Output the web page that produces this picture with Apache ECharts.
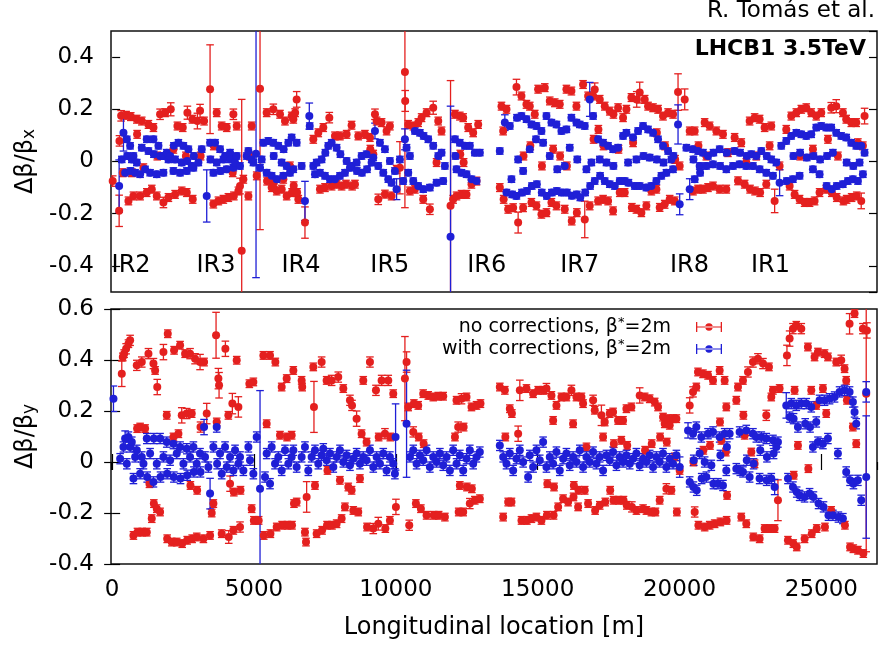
<!DOCTYPE html>
<html><head><meta charset="utf-8">
<script src="https://cdn.jsdelivr.net/npm/echarts@6/dist/echarts.min.js"></script>
<style>html,body{margin:0;padding:0;background:#fff}#c{width:884px;height:654px}</style>
</head><body><div id="c"></div>
<script>
// ---- axis / label values ----
const xRange = [-40, 26960];
const xTickStep = 5000;
const yTopRange = [-0.5, 0.5];
const yBotRange = [-0.4, 0.6];
const yTickStep = 0.2;
const irNames = ['IR2','IR3','IR4','IR5','IR6','IR7','IR8','IR1'];
const irPos = [669, 3662, 6655, 9789, 13204, 16479, 20352, 23204];
const irLabelY = -0.4;
const nameNo = 'no corrections, β*=2m';
const nameWith = 'with corrections, β*=2m';

// ---- data: [location m, delta beta / beta, (error)] ----
const topNoCorr = [[20,-0.075,0.02],[247,-0.189,0.06],[258,0.079,0.02],[317,0.175,0.02],[376,-0.043],[493,0.177],[575,-0.151],[657,0.172],[693,-0.043],[751,-0.132],[869,0.162],[880,0.104],[986,-0.132],[1045,0.155],[1104,-0.024],[1221,-0.119],[1280,0.142],[1397,-0.106],[1456,0.13],[1573,-0.132],[1590,0.021],[1690,0.181,0.02],[1808,-0.157,0.02],[1867,0.187],[1984,-0.138],[2066,0.2,0.025],[2160,0.047],[2219,-0.126],[2301,0.136],[2454,-0.113],[2489,0.13],[2630,-0.119],[2653,0.187,0.025],[2600,0.021],[2829,0.162],[2841,-0.145],[3005,0.155,0.03],[3099,0.194,0.025],[3120,0.021],[3240,0.155],[3452,0.277,0.17],[3569,-0.163],[3580,0.06],[3686,0.187],[3745,-0.151],[3862,0.136],[3921,-0.145],[4039,0.13],[4097,-0.138],[4273,0.181,0.02],[4290,-0.132],[4250,-0.043],[4391,0.136],[4450,-0.113],[4508,-0.094,0.03],[4567,-0.342,0.58],[4626,-0.068],[4802,-0.132],[4860,0.021],[4919,0.136],[5095,-0.055],[5213,0.279,0.54],[5447,0.187],[5460,-0.075],[5623,-0.1],[5682,0.2,0.02],[5700,-0.081],[5800,-0.113],[5917,0.181],[5976,-0.106],[6034,-0.068],[6093,0.155],[6152,-0.132],[6269,-0.017],[6328,0.174],[6340,-0.119],
[6387,0.162],[6450,0.187],[6400,-0.093],[6504,0.238,0.03],[6563,-0.145],[6520,-0.119],[6797,-0.234,0.06],[7091,0.085],[7267,0.11],[7326,-0.106],[7443,0.13],[7502,-0.1],[7655,0.168,0.02],[7737,-0.094],[7854,0.098],[7913,-0.087],[8030,0.098],[8089,-0.094],[8265,0.104],[8242,-0.087],[8441,0.139],[8460,-0.094],[8559,-0.087],[8676,0.098],[8911,0.104],[9087,0.092],[9100,0.047],[9205,0.028],[9264,0.181,0.02],[9322,0.155],[9381,-0.145,0.02],[9499,0.149],[9616,-0.125],[9674,0.117],[9791,0.136],[9850,-0.132],[10026,-0.03],[10143,-0.024,0.1],[10320,0.343,0.52],[10330,0.232,0.04],[10437,0.142],[10496,-0.113],[10614,0.136],[10672,-0.106],[10789,0.149],[10907,0.168],[10965,-0.145],[11083,0.187],[11200,-0.183,0.02],[11318,0.206,0.025],[11435,-0.004],[11494,0.155],[11611,0.117],[11928,-0.17,0.48],[12084,0.181],[12021,-0.145],[12139,-0.132],[12256,0.174],[12315,-0.126],[12374,0.168],[12491,-0.126],[12550,0.13],[12667,-0.087],[12726,0.11],[12902,0.142],[12843,-0.075],[12270,0.028],[12390,-0.004],
[13665,-0.1],[13724,0.212],[13783,0.117],[13800,-0.145],[13900,0.2],[13959,-0.183],[14135,-0.177],[14252,0.285,0.03],[14311,-0.234,0.04],[14428,0.251],[14487,-0.177],[14500,0.021],[14604,0.219],[14721,0.212],[14740,0.06],[14780,-0.157],[14897,0.181],[14956,-0.17],[15015,0.277],[15132,-0.202],[15150,-0.017],[15250,0.283],[15309,-0.196],[15426,0.232],[15485,-0.157],[15544,0.047],[15603,0.225],[15661,-0.17],[15778,0.219],[15790,0.021],[15954,-0.183],[16013,0.277],[16030,-0.017],[16189,0.27],[16200,-0.228],[16366,0.212],[16380,-0.196],
[16600,0.295],[16659,-0.222,0.07],[16777,0.251],[16835,-0.17],[16953,0.251],[16970,0.085],[17011,0.276,0.025],[17129,-0.151],[17140,0.123],[17188,0.238],[17305,-0.145],[17320,0.06],[17364,0.212],[17481,-0.151],[17540,0.193],[17657,-0.189],[17670,0.181],[17833,0.206],[17850,0.047],[17892,-0.119],[18009,0.168],[18068,-0.119],[18127,0.2],[18303,0.245],[18320,-0.176],[18362,0.072],[18479,-0.183],[18490,0.238,0.03],[18596,0.264,0.04],[18655,-0.196],[18772,0.238],[18831,-0.17],[18890,0.212],[19007,-0.113],[19066,0.206],[19184,-0.106],[19200,0.11],[19242,0.2],[19301,-0.176],[19418,0.174],[19477,-0.164],[19490,0.06],[19595,0.187],[19653,-0.145],[19771,0.181],[19830,-0.151],[19845,0.008],[19947,0.266,0.07],[20005,-0.017],[20182,0.238,0.04],[20358,0.117],[20475,-0.113],[20534,0.117],[20651,-0.106],[20665,0.06],[20827,-0.106],[20886,0.149],[20944,0.021],[21003,-0.1],[21062,0.136],[21179,-0.094],[21297,0.117],[21414,-0.106],[21531,0.104],[21649,-0.106],[21707,0.034],[21942,0.092],[22060,-0.074],[22177,0.072],[22295,-0.087],[22353,-0.004],[22471,0.155],[22485,-0.106],[22647,0.168],[22660,-0.113],[22706,0.021],[22823,0.162],[22840,-0.119],[22999,0.13],[23058,-0.087],[23176,0.06],[23234,0.136],[23352,-0.151,0.045],[23527,-0.017],[23762,0.123],[23880,-0.094],[23938,0.174],[24056,-0.126],[24115,0.187],[24232,-0.145],[24250,0.021],[24291,0.2],[24408,-0.157],[24467,0.206],[24584,-0.157],[24643,0.187],[24701,0.047],[24760,-0.151],[24819,0.174],[24936,-0.119],[24995,0.187],[25171,-0.106],[25230,0.085],[25347,0.206,0.02],[25365,-0.119],[25523,0.212,0.025],[25540,-0.138],[25582,0.021],[25758,0.187],[25775,-0.151],[25875,0.162],[25890,-0.145],[26052,0.149],[26065,-0.138],[26228,0.149],[26245,-0.132],[26287,0.072],[26404,-0.151,0.03],[26463,0.06],[26522,0.174,0.03]];

const topWithCorr = [[247,-0.094,0.1],[340,0.008],[399,0.11,0.07],[458,-0.043],[517,0.085],[530,0.021],[634,0.06],[645,-0.036],[693,0.008],[751,0.021],[810,-0.043],[869,-0.004],[986,-0.049],[1045,0.053],[1162,-0.03],[1221,0.085],[1280,0.04],[1338,-0.043],[1456,0.085],[1470,0.028],[1573,-0.049],[1632,0.06],[1690,0.021],[1808,-0.043],[1820,0.021],[1925,0.034],[1984,0.008],[2043,0.021],[2160,-0.036],[2175,0.06],[2219,0.008],[2336,0.072],[2395,-0.043],[2454,-0.004],[2512,0.06],[2630,-0.036],[2645,0.002],[2688,0.047],[2806,-0.017],[2865,-0.024],[2880,0.021],[3040,-0.004],[3158,0.047],[3334,-0.132,0.1],[3452,0.072],[3465,0.008],[3569,-0.043],[3628,0.072],[3686,-0.004],[3804,0.047],[3815,-0.036],[3921,0.008],[3980,0.021],[4039,-0.03],[4156,0.034],[4170,0.008],[4273,-0.024],[4332,-0.004],[4391,0.021],[4508,-0.017],[4743,0.021],[4802,0.04],[4919,0.008],[4978,-0.004],[5072,0.03,0.475],[5213,-0.024],[5271,0.008],[5330,0.072],[5447,-0.043],[5506,0.079],[5623,-0.055],[5682,0.072],[5695,0.021],[5800,-0.068],[5858,0.06],[5976,-0.004],[6034,-0.055],[6045,0.047],[6152,-0.017],[6211,0.072],[6269,-0.043],
[6328,0.092],[6387,-0.03],[6504,0.072],[6680,-0.017],[6797,-0.151,0.075],[6950,0.174,0.05],[6965,0.136],[7091,-0.017],[7150,-0.049],[7208,-0.004],[7326,-0.043],[7385,0.008],[7502,-0.055],[7515,0.034],[7619,0.06],[7678,-0.068],[7737,0.072],[7854,-0.068],[7913,0.053],[8030,-0.055],[8045,0.028],[8206,-0.043],[8265,0.002],[8383,-0.024],[8441,-0.017],[8617,-0.004],[8630,-0.036],[8793,0.021],[8805,-0.043],[8969,0.028],[8985,-0.03],[9146,-0.004],[9205,0.015],[9264,0.117,0.03],[9381,-0.017],[9440,0.072],[9557,-0.043],[9616,0.047],[9733,-0.068],[9791,0.002],[9850,-0.081],[9967,-0.036],[10026,-0.106,0.04],[10143,0.008],[10261,-0.075],[10320,0.085,0.04],[10378,0.053],[10437,-0.043],[10496,0.021],[10614,-0.075],[10672,0.117],[10789,-0.094],[10848,0.11],[10965,-0.106],[10980,0.098],[11142,0.085],[11200,-0.1],[11318,0.06],[11435,-0.081],[11494,0.021],[11611,0.034],[11670,-0.075],[11729,-0.017],[11928,-0.288,0.5],[12084,0.085],[12100,0.021],[12139,-0.03],[12256,0.072],[12315,-0.043],[12432,0.06],[12491,-0.049],[12608,0.06],[12667,-0.068],[12784,0.034],[12843,-0.075],[12961,0.034],
[13665,0.04],[13842,0.149,0.03],[13900,-0.119],[14018,0.136],[14076,-0.068],[14100,-0.126],[14252,-0.132],[14270,0.168],[14311,0.008],[14428,0.174],[14445,-0.119],[14487,-0.036],[14604,0.162],[14620,-0.113],[14721,0.047],[14780,0.142],[14795,-0.094],[14940,0.085],[14956,0.136],[14970,-0.087],[15132,0.117],[15145,-0.119],[15191,0.072],[15309,0.174],[15320,-0.132],[15426,0.021],[15485,0.149],[15500,-0.119],[15661,0.142],[15675,-0.113],[15690,-0.03],[15837,0.117],[15850,-0.119],[15954,-0.017],[16013,0.123],[16030,-0.119],[16130,0.053],[16189,0.168],[16205,-0.131],[16366,0.149],[16380,-0.126],[16395,0.008],
[16483,0.142],[16500,-0.138],[16659,0.136],[16675,-0.119],[16718,-0.03],[16835,0.238,0.065],[16850,-0.094],[16894,-0.004],[16953,0.174],[17011,-0.075],[17129,0.085],[17188,0.008],[17200,-0.055],[17305,0.072],[17364,-0.075],[17423,-0.004],[17481,0.06],[17540,-0.087],[17657,0.047],[17670,-0.017],[17716,-0.094],[17833,0.053],[17892,-0.075],[18009,0.098],[18068,-0.075],[18127,0.11],[18186,-0.004],[18200,-0.081],[18362,0.092],[18420,-0.094],[18479,0.008],[18538,0.117],[18596,-0.094],[18714,0.136],[18730,0.021],[18831,-0.1],[18890,0.123],[18948,0.015],[19007,-0.094],[19066,0.11],[19184,-0.075],[19200,0.008],[19242,0.085],[19360,-0.055],[19418,0.06],[19435,-0.004],[19536,-0.043],[19595,0.04],[19712,0.008],[19771,-0.03],[19785,0.021],[19947,0.142,0.075],[20005,-0.164,0.04],[20240,0.053],[20358,-0.106,0.04],[20475,0.047],[20490,0.008],[20534,-0.068],[20651,0.04],[20710,-0.017],[20725,-0.043],[20827,0.034],[20944,-0.017],[21003,0.021],[21179,-0.011],[21195,0.034],[21414,0.047],[21430,-0.017],[21649,-0.03],[21665,0.034],[21884,-0.017],[21942,0.04],[22118,-0.011],[22135,0.034],[22353,-0.017],[22370,0.021],[22530,0.028],[22588,-0.017],[22706,0.021],[22823,-0.03],[22882,0.04],[23058,-0.043],[23075,0.021],[23234,0.008],[23293,-0.055],[23411,-0.004],[23527,-0.081,0.05],[23586,0.06],[23762,0.079],[23780,-0.075],[23938,0.098],[23997,-0.068],[24015,0.021],[24115,0.11],[24232,-0.055],[24250,0.034],[24291,0.104],[24467,0.098],[24485,0.015],[24643,0.104],[24701,-0.03],[24720,0.021],[24819,0.13],[24936,-0.049],[24955,0.008],[24995,0.136],[25171,0.13],[25185,-0.094],[25200,0.021],[25347,0.13],[25365,-0.106],[25406,0.034],[25523,0.11],[25540,-0.094],[25699,0.098],[25758,-0.087],[25875,0.092],[25890,-0.004],[25934,-0.075],[26052,0.072],[26110,-0.068],[26125,-0.017],[26228,0.06],[26287,-0.075],[26346,-0.004],[26404,0.06],[26463,-0.049],[26522,0.034]];

const botNoCorr = [[340,0.346,0.05],[376,0.412],[423,0.425],[493,0.444,0.02],[575,0.464],[634,0.477,0.02],[751,-0.288],[869,0.379,0.02],[880,0.131],[892,-0.275],[986,0.137],[1045,0.392,0.02],[1060,-0.275],[1162,0.131],[1221,-0.275],[1280,0.425,0.02],[1315,-0.085],[1397,-0.222],[1456,0.386,0.02],[1470,-0.163],[1515,0.359],[1573,-0.183],[1590,0.294,0.03],[1690,-0.196],[1808,0.431,0.03],[1925,0.183],[1940,-0.301],[1961,0.503],[2101,-0.314],[2160,0.098],[2184,0.438],[2277,-0.314],[2336,0.111],[2395,0.458],[2454,0.183,0.03],[2470,-0.32],[2571,0.425],[2630,0.19,0.02],[2645,-0.307],[2747,0.425,0.02],[2760,-0.092],[2806,0.19],[2820,-0.301],[2923,0.405,0.02],[2982,-0.294],[2995,-0.111],[3099,0.392,0.03],[3115,0.137,0.02],[3217,-0.301],[3240,0.392],[3334,0.19,0.04],[3452,-0.288],[3510,-0.2],[3569,-0.163],[3663,0.497,0.09],[3686,0.157],[3745,0.327,0.04],[3769,0.301,0.05],[3862,-0.281],[3992,0.444,0.03],[4097,0.183],[4110,-0.294,0.025],[4156,-0.085,0.03],[4238,0.229,0.04],[4273,-0.268],[4290,-0.118],[4391,0.399],[4450,0.216,0.04],[4508,-0.255,0.02],[4525,-0.111],[4837,0.307],[4919,-0.183],[4978,0.314],[4995,-0.229],[5166,-0.229],[5330,0.418],[5345,-0.288],[5447,0.15],[5565,0.418],[5580,-0.281],[5753,0.392],[5800,-0.255],[5917,0.105],[5976,0.294],[5990,-0.248],[6152,0.327],[6165,0.098],[6180,-0.248],[6328,0.105],[6340,-0.248],[6387,0.359],[6410,-0.163],
[6504,-0.157],[6680,0.32],[6700,0.294],[6797,-0.275],[6833,-0.314],[6856,-0.137,0.06],[7091,0.373],[7114,0.216,0.1],[7150,-0.092],[7208,-0.281],[7385,0.392,0.02],[7400,-0.268],[7560,0.32],[7575,-0.248],[7590,-0.033],[7737,0.32,0.02],[7750,-0.248],[7913,-0.242],[7971,0.333,0.02],[8030,-0.072],[8089,-0.222],[8148,0.288],[8206,-0.176],[8324,-0.098],[8383,0.242,0.02],[8441,-0.111],[8455,0.222,0.02],[8500,-0.19],[8617,0.17,0.03],[8676,-0.196],[8735,-0.065],[8793,0.111],[8852,0.32],[8969,0.078],[8985,-0.255],[9087,0.392,0.02],[9205,-0.261,0.02],[9299,0.281,0.02],[9381,-0.242,0.025],[9395,0.098],[9499,0.32,0.02],[9616,0.111,0.02],[9630,-0.261],[9733,0.32,0.02],[9791,-0.229],[9805,0.098],[9909,0.268],[10003,-0.176,0.03],[10320,0.327,0.165],[10378,0.392,0.04],[10437,0.216],[10472,-0.248,0.02],[10614,0.118,0.02],[10637,0.229],[10707,-0.163],[10789,0.222],[10805,0.098],[10883,-0.183],[10965,0.268],[10980,0.072],[11083,-0.209],[11142,0.261],[11318,0.255],[11335,-0.209],[11494,0.258],[11510,-0.209],[11670,0.258],[11729,-0.216],[12084,0.098],[12139,0.242],[12197,0.137,0.02],[12215,-0.196],[12256,-0.092],[12315,0.248,0.02],[12374,-0.196],[12390,0.137],[12491,0.255],[12505,-0.098],[12608,-0.163,0.02],[12667,0.216],[12680,-0.105],[12784,-0.15],[12843,0.222],[12961,-0.144],[12984,0.229],
[13665,0.294],[13783,-0.216],[13842,0.281],[13860,0.098],[13959,-0.157],[14018,0.209],[14076,-0.157],[14090,0.19],[14311,0.111,0.03],[14370,0.281,0.04],[14428,-0.229],[14604,0.288],[14620,-0.229],[14780,-0.222],[14839,0.268],[14956,-0.216],[15015,0.281],[15132,-0.229],[15191,0.281],[15309,0.288,0.02],[15325,-0.209],[15340,-0.085],[15485,0.261],[15544,0.163],[15560,-0.209],[15575,-0.098],[15661,0.222],[15720,-0.176],[15837,0.255],[15896,-0.144],[16013,0.255],[16072,-0.157],[16189,0.281,0.02],[16248,0.15],[16262,-0.137],[16275,-0.092],[16366,0.255],[16425,-0.176],[16440,-0.111],[16542,0.255],
[16600,0.229],[16659,-0.111],[16718,0.059],[16777,-0.163],[16953,0.242,0.02],[17011,0.203],[17025,-0.19],[17188,-0.17],[17246,0.183,0.04],[17305,0.098],[17364,0.157],[17380,-0.157],[17540,0.19],[17555,-0.111],[17657,0.196],[17670,-0.15],[17685,0.072],[17833,0.163],[17850,-0.15],[17950,0.085],[18009,0.163],[18025,-0.15],[18127,0.209],[18140,-0.17],[18155,0.065],[18303,0.216],[18320,-0.176,0.02],[18479,-0.19],[18596,0.261,0.03],[18714,-0.183],[18772,0.255],[18785,0.046],[18831,-0.19],[18948,0.248],[19007,-0.196],[19020,0.072],[19125,0.235],[19150,-0.196],[19242,0.216],[19301,-0.15],[19315,0.098],[19418,0.176],[19477,0.15],[19536,-0.105,0.02],[19550,0.078],[19595,0.17],[19653,0.144],[19712,-0.111],[19771,0.17],[19830,0.02],[19889,0.17],[19905,-0.196],[20005,-0.033],[20358,0.222,0.03],[20475,0.275,0.02],[20490,0.0],[20534,-0.196,0.02],[20592,0.294],[20651,0.353],[20665,-0.248],[20827,0.346],[20840,0.046],[20886,-0.255],[21003,0.34],[21062,-0.248],[21075,0.065],[21179,0.32],[21238,-0.242],[21414,0.359],[21425,0.157],[21440,-0.235],[21473,0.085],[21590,0.32],[21649,0.216],[21660,-0.229],[21675,-0.131],[21630,0.039],[22001,0.242],[22060,0.294],[22177,-0.216],[22236,0.32],[22250,0.183],[22295,0.105],[22353,-0.242],[22412,0.353,0.02],[22530,0.039],[22588,0.392,0.02],[22600,-0.294],[22647,-0.007],[22764,0.405,0.02],[22823,-0.301],[22941,0.386,0.02],[22999,-0.261],[23058,0.183,0.02],[23152,0.373],[23176,-0.261],[23234,0.255],[23293,0.281],[23352,-0.261],[23469,-0.15,0.08],[23527,0.288],[23786,0.418,0.04],[23821,-0.307],[23880,0.484,0.03],[23997,0.523,0.02],[24010,-0.32],[24025,-0.052],[24056,0.281],[24115,0.536],[24130,-0.333],[24173,0.065],[24291,0.523,0.02],[24408,-0.301],[24525,0.451],[24540,-0.026],[24643,0.281],[24660,-0.281],[24760,0.412],[24819,0.222],[24835,-0.261],[24878,0.431],[25054,0.288],[25112,0.425],[25125,-0.255],[25171,0.19],[25230,0.412],[25347,-0.19],[25523,0.392],[25699,0.399,0.02],[25817,0.366],[25830,-0.248],[25875,0.32],[25900,0.242],[25993,0.542,0.04],[26010,-0.333],[26110,0.137],[26125,-0.34],[26169,0.582],[26228,0.072],[26287,-0.346],[26463,0.523,0.02],[26478,-0.359],[26580,0.268,0.62],[26604,0.516,0.03]];

const botWithCorr = [[47,0.248,0.05],[282,0.013],[399,0.059],[458,0.092,0.03],[517,-0.007],[575,0.098],[634,0.059],[693,0.078],[751,-0.065],[810,0.02],[869,0.046],[986,-0.046],[1045,0.02],[1104,-0.007],[1221,0.092],[1235,-0.059],[1338,0.033],[1456,-0.078],[1470,0.092],[1573,-0.007],[1690,0.092,0.02],[1705,-0.059],[1808,0.02],[1925,0.078],[1940,-0.046],[2043,0.007],[2160,0.072],[2175,-0.059],[2277,0.033],[2395,0.059],[2410,-0.065],[2512,-0.007],[2630,0.052],[2645,-0.052],[2747,0.02],[2865,0.059],[2880,-0.039],[2982,-0.007],[3099,0.033],[3115,-0.039],[3240,0.137,0.03],[3275,0.02],[3393,-0.02],[3452,-0.124,0.06],[3569,0.059],[3686,0.137,0.02],[3700,-0.007],[3804,0.033],[3862,-0.046],[3980,0.059],[4039,-0.02],[4156,0.02],[4273,-0.033],[4332,0.046],[4450,-0.007],[4508,0.02],[4626,-0.033],[4802,0.059],[4860,0.007],[4978,-0.046],[5095,0.098,0.02],[5213,-0.105,0.385],[5389,-0.059],[5447,0.033],[5565,-0.085],[5623,0.059],[5741,-0.007],[5858,0.02],[5976,-0.033],[6093,0.046],[6211,-0.007],[6328,0.02],
[6387,0.046],[6504,-0.02],[6680,0.02],[6797,0.059],[6915,-0.033],[7032,0.02],[7150,0.046],[7267,-0.007],[7385,0.026],[7443,0.052],[7560,0.007],[7678,0.033],[7796,-0.02],[7913,0.02],[8030,0.046],[8148,0.0],[8265,0.026],[8383,-0.013],[8500,0.013],[8617,0.033],[8735,-0.007],[8852,0.02],[8969,0.007],[9087,0.046],[9205,-0.02],[9322,0.02],[9440,-0.007],[9557,0.033],[9674,-0.033],[9791,0.02],[9909,-0.007],[9991,0.098,0.13],[9967,-0.046],[10378,0.15,0.21],[10496,0.02],[10614,0.046],[10731,-0.007],[10848,0.026],[10965,0.007],[11083,0.046],[11200,-0.02],[11318,0.02],[11435,0.0],[11553,0.033],[11670,-0.013],[11787,0.02],[11905,-0.033],[12021,0.046],[12139,-0.007],[12256,0.026],[12374,-0.033],[12491,0.013],[12608,0.046],[12726,-0.007],[12843,0.02],[12961,0.039],
[13665,0.065],[13783,0.02],[13900,-0.007],[14018,0.033],[14135,-0.033],[14252,0.013],[14370,0.046],[14487,0.0],[14663,-0.059],[14721,0.026],[14839,-0.02],[14956,0.046],[15073,0.007],[15191,0.078],[15309,-0.02],[15426,0.02],[15544,-0.007],[15661,0.039],[15778,-0.033],[15896,0.013],[16013,0.033],[16130,-0.013],[16248,0.02],[16366,0.0],[16483,0.046],
[16600,-0.02],[16718,0.02],[16835,0.0],[16953,0.039],[17070,-0.007],[17188,0.02],[17305,-0.033],[17423,0.026],[17540,0.007],[17657,0.039],[17775,-0.013],[17892,0.02],[18009,0.0],[18127,0.026],[18245,-0.007],[18362,0.013],[18479,0.033],[18596,-0.013],[18714,0.013],[18831,0.0],[18948,0.026],[19066,-0.02],[19184,0.02],[19301,0.0],[19418,0.033],[19536,-0.02],[19653,0.013],[19771,-0.007],[19889,0.026],[20005,-0.02,0.04],
[20299,0.124,0.03],[20358,-0.078],[20475,0.111],[20490,-0.098],[20500,0.007],[20592,0.137],[20605,-0.111],[20710,0.033],[20768,0.098],[20780,-0.065],[20886,0.0],[20944,-0.059],[21003,0.111],[21121,-0.013],[21179,0.118],[21195,-0.085],[21355,-0.085],[21414,0.098],[21440,0.026],[21531,-0.092],[21590,0.111],[21649,-0.033],[21670,0.059],[21766,0.111],[22001,-0.026],[22118,0.118],[22140,-0.033],[22236,-0.039],[22353,0.124],[22370,0.007],[22471,-0.059],[22588,0.111],[22610,-0.007],[22706,0.098],[22823,-0.065],[22845,0.046],[22882,0.098],[23058,0.092],[23070,-0.072],[23080,0.02],[23234,-0.065],[23293,0.085],[23315,0.033],[23352,-0.098,0.03],[23469,0.078],[23411,0.059],
[23762,0.222,0.05],[23821,-0.065],[23880,0.176],[23938,0.229],[23997,-0.098],[24020,0.17],[24115,0.222],[24130,-0.118],[24173,0.137],[24232,-0.131],[24291,0.229],[24408,-0.137],[24430,0.15],[24467,0.229],[24584,-0.124],[24600,0.137],[24643,0.216],[24701,0.059],[24720,-0.137],[24819,0.157],[24878,0.078],[24900,-0.163],[24936,0.242],[25054,0.072],[25075,-0.176],[25112,0.242],[25230,0.092],[25250,-0.209],[25289,0.248],[25406,-0.209],[25465,0.255],[25582,0.033],[25600,-0.216],[25640,0.275],[25758,-0.222],[25817,0.281],[25875,-0.039],[25993,0.275],[26010,-0.072],[26110,0.235],[26130,-0.085],[26169,0.196],[26228,0.15],[26287,-0.072],[26404,-0.15],[26580,0.275,0.04],[26580,-0.059,0.24]];

const defaultErr = {topNo: 0.015, topWith: 0.012, botNo: 0.015, botWith: 0.02};

// ---- styling ----
const FONT = 'DejaVu Sans';
const RED = '#e4201f', BLUE = '#1f1fd6';
const ICON = 'path://M0,0h1.3v10h-1.3z M24.7,0h1.3v10h-1.3z M0,4.4h26v1.2h-26z M9.3,5a3.7,3.7 0 1,0 7.4,0a3.7,3.7 0 1,0 -7.4,0z';

function errSeries(name, data, defErr, color, xi, yi) {
  return {
    type: 'custom', name, xAxisIndex: xi, yAxisIndex: yi, clip: true, silent: true,
    itemStyle: {color: color},
    data: data.map(d => [d[0], d[1], d.length > 2 ? d[2] : defErr]),
    encode: {x: 0, y: 1},
    renderItem: function (params, api) {
      const x = api.value(0), y = api.value(1), e = api.value(2);
      const cs = params.coordSys;
      const top = cs.y, bot = cs.y + cs.height;
      const p1 = api.coord([x, y + e]), p2 = api.coord([x, y - e]);
      const cw = 3.8;
      const st = {stroke: color, lineWidth: 1.3, fill: null};
      const ch = [{type: 'line', shape: {x1: p1[0], y1: Math.max(top, p1[1]), x2: p2[0], y2: Math.min(bot, p2[1])}, style: st}];
      if (p1[1] >= top) ch.push({type: 'line', shape: {x1: p1[0] - cw, y1: p1[1], x2: p1[0] + cw, y2: p1[1]}, style: st});
      if (p2[1] <= bot) ch.push({type: 'line', shape: {x1: p2[0] - cw, y1: p2[1], x2: p2[0] + cw, y2: p2[1]}, style: st});
      return {type: 'group', children: ch};
    }
  };
}
function ptSeries(name, data, color, xi, yi) {
  return {type: 'scatter', name, xAxisIndex: xi, yAxisIndex: yi, symbol: 'circle', symbolSize: 8,
    itemStyle: {color, opacity: 1}, silent: true, clip: true,
    data: data.map(d => [d[0], d[1]])};
}

const tickStyle = {show: true, inside: true, length: 8, lineStyle: {color: '#000', width: 1.2}};
const lblStyle = {fontFamily: FONT, fontSize: 23, color: '#000'};

const chart = echarts.init(document.getElementById('c'), null, {renderer: 'canvas'});
chart.setOption({
  animation: false,
  backgroundColor: '#fff',
  textStyle: {fontFamily: FONT},
  title: [
    {text: 'R. Tomás et al.', right: 9, top: 0, padding: 0, textStyle: {fontFamily: FONT, fontSize: 23, fontWeight: 'normal', color: '#000'}},
    {text: 'LHCB1 3.5TeV', right: 18, top: 38, padding: 0, textStyle: {fontFamily: FONT, fontSize: 22, fontWeight: 'bold', color: '#000'}}
  ],
  legend: {
    orient: 'vertical', right: 162, top: 316, align: 'right', padding: 0,
    itemWidth: 26, itemHeight: 10, itemGap: 0, selectedMode: false,
    data: [{name: nameNo, icon: ICON, itemStyle: {color: RED}}, {name: nameWith, icon: ICON, itemStyle: {color: BLUE}}],
    formatter: n => n.replace('*', '{s|*}'),
    textStyle: {fontFamily: FONT, fontSize: 19, color: '#000', lineHeight: 22, padding: [0, 20, 0, 0],
      rich: {s: {fontFamily: FONT, fontSize: 13, color: '#000', verticalAlign: 'top', lineHeight: 22}}}
  },
  grid: [
    {left: 111, top: 31, width: 766, height: 261, show: true, borderColor: '#111', borderWidth: 1.5, backgroundColor: 'transparent'},
    {left: 111, top: 309, width: 766, height: 255, show: true, borderColor: '#111', borderWidth: 1.5, backgroundColor: 'transparent'}
  ],
  xAxis: [
    {type: 'value', gridIndex: 0, min: xRange[0], max: xRange[1], minInterval: xTickStep, maxInterval: xTickStep,
      axisLine: {show: false}, axisTick: {show: false}, axisLabel: {show: false}, splitLine: {show: false}},
    {type: 'value', gridIndex: 1, position: 'bottom', min: xRange[0], max: xRange[1], minInterval: xTickStep, maxInterval: xTickStep,
      axisLine: {show: false}, axisTick: tickStyle, splitLine: {show: false},
      axisLabel: Object.assign({margin: 15, showMinLabel: false, showMaxLabel: false, formatter: v => String(v)}, lblStyle),
      name: 'Longitudinal location [m]', nameLocation: 'middle', nameGap: 52,
      nameTextStyle: {fontFamily: FONT, fontSize: 24, color: '#000'}},
    {type: 'value', gridIndex: 1, position: 'top', min: xRange[0], max: xRange[1], minInterval: xTickStep, maxInterval: xTickStep,
      axisLine: {show: false}, axisTick: tickStyle, axisLabel: {show: false}, splitLine: {show: false}}
  ],
  yAxis: [
    {type: 'value', gridIndex: 0, position: 'left', min: yTopRange[0], max: yTopRange[1], minInterval: yTickStep, maxInterval: yTickStep,
      axisLine: {show: false}, axisTick: tickStyle, splitLine: {show: false},
      axisLabel: Object.assign({margin: 17, showMinLabel: false, showMaxLabel: false}, lblStyle),
      name: 'Δβ/β{sub|x}', nameLocation: 'middle', nameGap: 60,
      nameTextStyle: {fontFamily: FONT, fontSize: 24, color: '#000', rich: {sub: {fontFamily: FONT, fontSize: 17, color: '#000', verticalAlign: 'bottom'}}}},
    {type: 'value', gridIndex: 0, position: 'right', min: yTopRange[0], max: yTopRange[1], minInterval: yTickStep, maxInterval: yTickStep,
      axisLine: {show: false}, axisTick: tickStyle, axisLabel: {show: false}, splitLine: {show: false}},
    {type: 'value', gridIndex: 1, position: 'left', min: yBotRange[0], max: yBotRange[1], interval: yTickStep,
      axisLine: {show: false}, axisTick: tickStyle, splitLine: {show: false},
      axisLabel: Object.assign({margin: 17}, lblStyle),
      name: 'Δβ/β{sub|y}', nameLocation: 'middle', nameGap: 60,
      nameTextStyle: {fontFamily: FONT, fontSize: 24, color: '#000', rich: {sub: {fontFamily: FONT, fontSize: 17, color: '#000', verticalAlign: 'bottom'}}}},
    {type: 'value', gridIndex: 1, position: 'right', min: yBotRange[0], max: yBotRange[1], interval: yTickStep,
      axisLine: {show: false}, axisTick: tickStyle, axisLabel: {show: false}, splitLine: {show: false}}
  ],
  series: [
    errSeries('top no', topNoCorr, defaultErr.topNo, RED, 0, 0),
    ptSeries('top no', topNoCorr, RED, 0, 0),
    errSeries('top with', topWithCorr, defaultErr.topWith, BLUE, 0, 0),
    ptSeries('top with', topWithCorr, BLUE, 0, 0),
    errSeries(nameNo, botNoCorr, defaultErr.botNo, RED, 1, 2),
    ptSeries(nameNo, botNoCorr, RED, 1, 2),
    errSeries(nameWith, botWithCorr, defaultErr.botWith, BLUE, 1, 2),
    ptSeries(nameWith, botWithCorr, BLUE, 1, 2),
    {type: 'scatter', name: 'IR', xAxisIndex: 0, yAxisIndex: 0, symbolSize: 0, silent: true,
      itemStyle: {opacity: 1},
      data: irPos.map((x, i) => ({value: [x, irLabelY], name: irNames[i]})),
      label: {show: true, position: 'inside', formatter: p => p.name, fontFamily: FONT, fontSize: 24, color: '#000', opacity: 1, textBorderWidth: 0}}
  ]
});
</script>
</body></html>
